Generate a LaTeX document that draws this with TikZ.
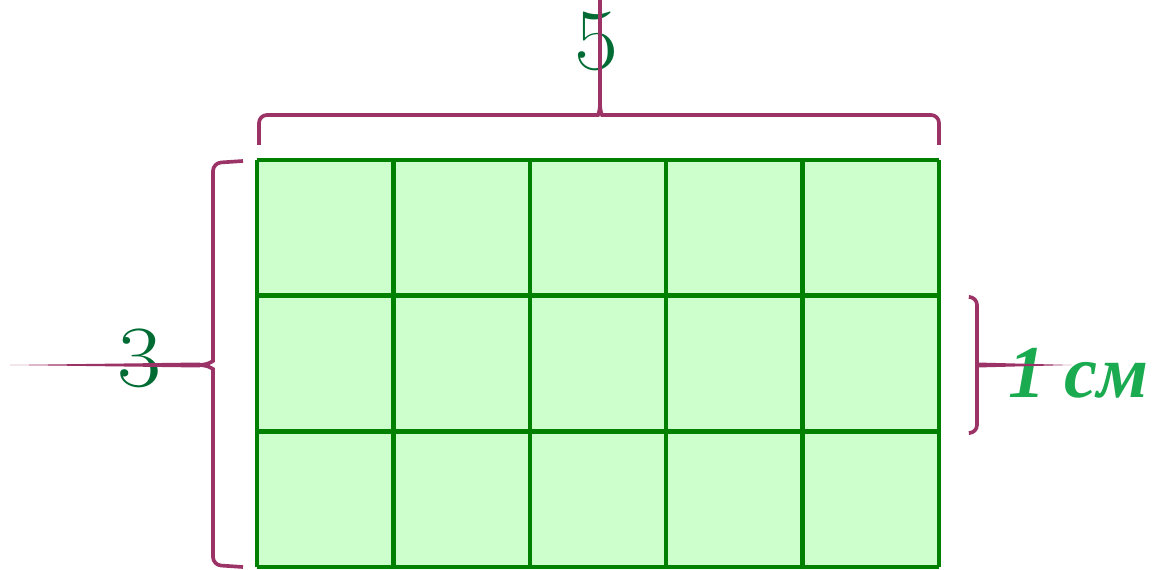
\documentclass[tikz,border=0pt]{standalone}
\usepackage{fontspec}
\newfontfamily\cmfont{Liberation Serif}
\definecolor{cellgreen}{RGB}{204,255,204}
\definecolor{gridgreen}{RGB}{0,128,0}
\definecolor{bracecol}{RGB}{156,51,102}
\definecolor{numgreen}{RGB}{0,108,52}
\definecolor{unitgreen}{RGB}{26,170,80}
\begin{document}
\begin{tikzpicture}[x=0.025cm,y=-0.025cm,
  cellline/.style={gridgreen,line width=3.2pt},
  brace/.style={bracecol,line width=2.6pt,rounded corners=0.2cm},
  numlabel/.style={numgreen,font=\fontsize{62}{62}\selectfont,inner sep=0pt,anchor=base},
  unitlabel/.style={unitgreen,font=\cmfont\bfseries\itshape\fontsize{53}{53}\selectfont,inner sep=0pt,anchor=base west}]
\useasboundingbox(0,0)rectangle(1152,570);
% grid
\fill[cellgreen](257,160)rectangle(939,567);
\foreach \i in {0,...,5}
  \draw[cellline](257+136.4*\i,160)--(257+136.4*\i,567);
\foreach \j in {0,...,3}
  \draw[cellline](257,160+135.67*\j)--(939,160+135.67*\j);
% labels
\node[numlabel,xscale=1.1](five) at (597,70) {5};
\node[numlabel,xscale=1.1](three) at (140,387) {3};
\node[unitlabel](unit) at (1008,397) {1 см};
% top brace
\draw[brace](259,145)|-(590,115)..controls(598,115)and(600,111)..(600,103);
\draw[brace](939,145)|-(610,115)..controls(602,115)and(600,111)..(600,103);
\draw[bracecol,line width=2.4pt](600,104)--(600,0);
% left brace
\draw[brace](243,161)--(213,163)--(213,353)..controls(213,361)and(208,365)..(198,365);
\draw[brace](243,567)--(213,565)--(213,377)..controls(213,369)and(208,365)..(198,365);
\fill[bracecol](200,362.5)--(10,365)--(200,367.5)--cycle;
% right brace
\draw[brace](970,297)-|(977,433)--(970,433);
\fill[bracecol](977,362.5)--(1072,365)--(977,367.5)--cycle;
\end{tikzpicture}
\end{document}
